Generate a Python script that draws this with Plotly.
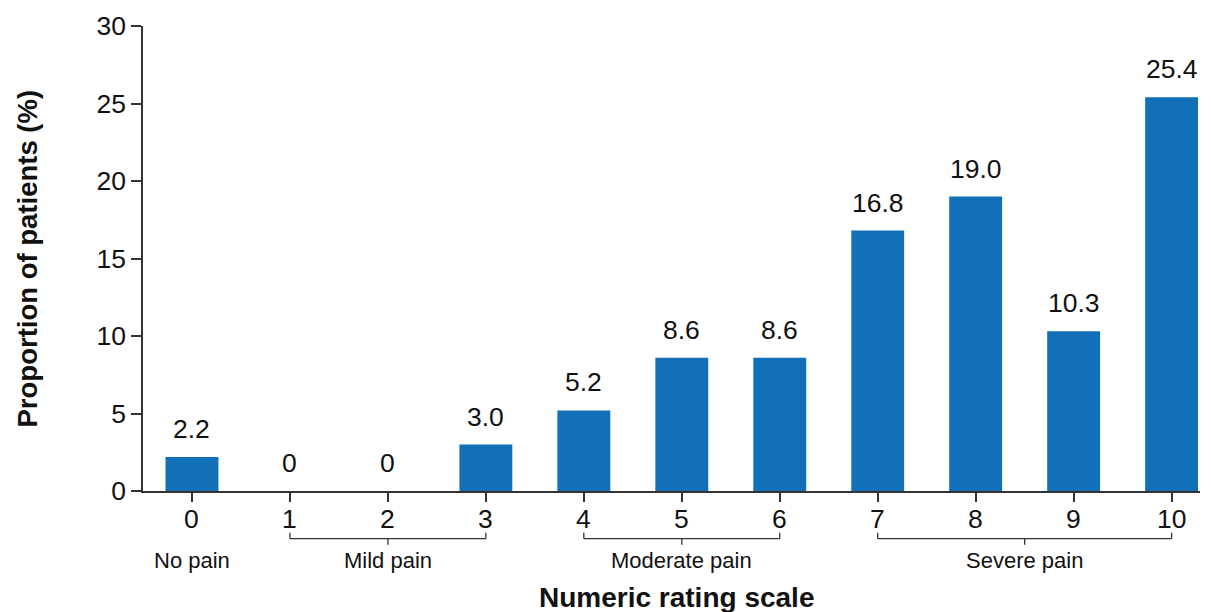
import plotly.graph_objects as go

categories = [0, 1, 2, 3, 4, 5, 6, 7, 8, 9, 10]
values = [2.2, 0, 0, 3.0, 5.2, 8.6, 8.6, 16.8, 19.0, 10.3, 25.4]
value_labels = ["2.2", "0", "0", "3.0", "5.2", "8.6", "8.6", "16.8", "19.0", "10.3", "25.4"]
tick_labels = ["0", "1", "2", "3", "4", "5", "6", "7", "8", "9", "10"]
y_ticks = [0, 5, 10, 15, 20, 25, 30]
groups = ["No pain", "Mild pain", "Moderate pain", "Severe pain"]
group_start = [0, 1, 4, 7]
group_end = [0, 3, 6, 10]

FONT = "Liberation Sans, Arial, sans-serif"
BAR = "#1170b8"

fig = go.Figure()
fig.add_trace(go.Bar(
    x=categories, y=values, width=0.54,
    marker=dict(color=BAR, line=dict(width=0)),
    hoverinfo="skip",
))

annotations = []
for c, v, t in zip(categories, values, value_labels):
    annotations.append(dict(x=c, y=v, xref="x", yref="y", text=t, showarrow=False,
                            yanchor="middle", yshift=28,
                            font=dict(size=26.5, color="#111", family=FONT)))

# x tick labels placed just below the axis ticks
for c, t in zip(categories, tick_labels):
    annotations.append(dict(x=c, y=-0.0598, xref="x", yref="paper", text=t, showarrow=False,
                            yanchor="middle",
                            font=dict(size=26.5, color="#111", family=FONT)))

shapes = []
y_line = -0.1026
y_up = -0.0897
y_down = -0.1154
for g, s, e in zip(groups, group_start, group_end):
    mid = (s + e) / 2
    annotations.append(dict(x=mid, y=-0.1496, xref="x", yref="paper", text=g,
                            showarrow=False, yanchor="middle",
                            font=dict(size=22, color="#111", family=FONT)))
    if e > s:
        line = dict(color="#333", width=1.3)
        shapes.append(dict(type="line", xref="x", yref="paper", x0=s, x1=e, y0=y_line, y1=y_line, line=line))
        shapes.append(dict(type="line", xref="x", yref="paper", x0=s, x1=s, y0=y_line, y1=y_up, line=line))
        shapes.append(dict(type="line", xref="x", yref="paper", x0=e, x1=e, y0=y_line, y1=y_up, line=line))
        shapes.append(dict(type="line", xref="x", yref="paper", x0=mid, x1=mid, y0=y_line, y1=y_down, line=line))

annotations.append(dict(x=0.505, y=-0.2286, xref="paper", yref="paper",
                        text="<b>Numeric rating scale</b>", showarrow=False,
                        yanchor="middle", xanchor="center",
                        font=dict(size=28, color="#111", family=FONT)))
annotations.append(dict(x=-0.1088, y=0.5, xref="paper", yref="paper",
                        text="<b>Proportion of patients (%)</b>", showarrow=False,
                        textangle=-90, yanchor="middle", xanchor="center",
                        font=dict(size=27.5, color="#111", family=FONT)))

fig.update_layout(
    width=1211, height=612,
    margin=dict(l=143, r=11, t=23, b=121),
    paper_bgcolor="white", plot_bgcolor="white",
    showlegend=False,
    annotations=annotations,
    shapes=shapes,
    font=dict(family=FONT, color="#111"),
)
fig.update_xaxes(
    range=[-0.5, 10.29], tickmode="array", tickvals=categories, showticklabels=False,
    showline=True, linecolor="#333", linewidth=1.5,
    ticks="outside", ticklen=9, tickwidth=1.5, tickcolor="#333",
    showgrid=False, zeroline=False,
)
fig.update_yaxes(
    range=[0, 30], tickmode="array", tickvals=y_ticks,
    showline=True, linecolor="#333", linewidth=1.5,
    ticks="outside", ticklen=10, tickwidth=1.5, tickcolor="#333",
    tickfont=dict(size=26.5, family=FONT, color="#111"),
    showgrid=False, zeroline=False,
)

fig.write_html("out.html", config={"displayModeBar": False},
               post_script="document.body.style.margin='0px';document.body.style.padding='0px';")
